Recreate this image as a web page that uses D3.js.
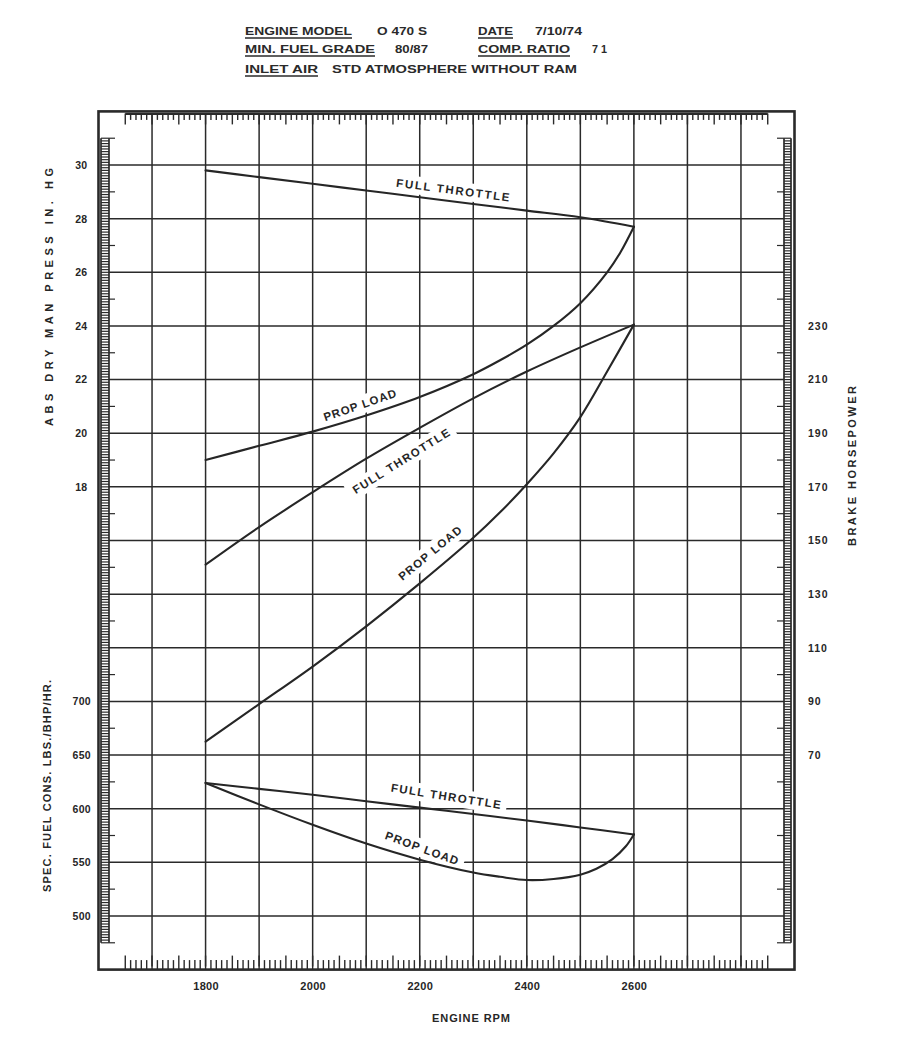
<!DOCTYPE html>
<html><head><meta charset="utf-8">
<script src="https://cdn.jsdelivr.net/npm/d3@7"></script>
<style>html,body{margin:0;padding:0;background:#fff;} svg{display:block;}</style>
</head><body>
<svg id="chart" width="897" height="1041"></svg>
<script>
// ---------------- DATA ----------------
const rpmTicks = [1800, 2000, 2200, 2400, 2600];
const mapTicks = [30, 28, 26, 24, 22, 20, 18];
const bhpTicks = [230, 210, 190, 170, 150, 130, 110, 90, 70];
const sfcTicks = [700, 650, 600, 550, 500];

// Manifold pressure (in. Hg)
const ftMapRpm = [1800, 1900, 2000, 2100, 2200, 2300, 2400, 2500, 2600];
const ftMap    = [29.8, 29.55, 29.3, 29.05, 28.8, 28.55, 28.3, 28.05, 27.7];
const plMapRpm = [1800, 1900, 2000, 2100, 2200, 2300, 2350, 2400, 2450, 2500, 2550, 2575, 2600];
const plMap    = [19.0, 19.53, 20.06, 20.66, 21.35, 22.2, 22.72, 23.3, 24.0, 24.85, 26.0, 26.75, 27.7];

// Brake horsepower
const ftBhpRpm = [1800, 1900, 2000, 2100, 2200, 2300, 2400, 2500, 2600];
const ftBhp    = [141, 155, 168, 180.5, 192, 203, 213, 222, 230.5];
const plBhpRpm = [1800, 1900, 2000, 2100, 2200, 2300, 2350, 2400, 2450, 2500, 2550, 2600];
const plBhp    = [75, 89, 103, 118, 134, 151, 160.5, 171, 182.5, 196, 213, 230.5];

// Specific fuel consumption (lbs/BHP/hr)
const ftSfcRpm = [1800, 1900, 2000, 2100, 2200, 2300, 2400, 2500, 2600];
const ftSfc    = [624, 618.5, 613, 607, 601, 595, 589, 582.5, 576];
const plSfcRpm = [1800, 1900, 2000, 2100, 2200, 2300, 2350, 2400, 2450, 2500, 2530, 2560, 2585, 2600];
const plSfc    = [624, 604, 585, 567.5, 552.5, 540.5, 536.5, 533.5, 534.5, 538.5, 544, 553, 565, 576];

// Curve labels (anchor in rpm / MAP-grid units)
const labelText  = ["FULL THROTTLE", "PROP LOAD", "FULL THROTTLE", "PROP LOAD", "FULL THROTTLE", "PROP LOAD"];
const labelRpm   = [2262, 2088, 2165, 2219, 2249, 2204];
const labelMap   = [29.07, 21.05, 18.96, 15.53, 6.47, 4.53];
const labelAngle = [7.5, -19, -32, -39.5, 9, 20];
const labelLen   = [114, 76, 112, 78, 111, 77];

// Header block
const headerRows = [
  [["ENGINE MODEL", true], ["O 470 S", false], ["DATE", true], ["7/10/74", false]],
  [["MIN. FUEL GRADE", true], ["80/87", false], ["COMP. RATIO", true], ["7 1", false]],
  [["INLET AIR", true], ["STD ATMOSPHERE WITHOUT RAM", false]]
];

// ---------------- LAYOUT ----------------
const W = 897, H = 1041;
const ink = "#2a2a2a";
const font = "'Liberation Sans', Arial, Helvetica, sans-serif";
const svg = d3.select("#chart");
svg.append("rect").attr("width", W).attr("height", H).attr("fill", "#fff");

const x = d3.scaleLinear().domain([1600, 2900]).range([98.5, 794.5]);
const yMap = d3.scaleLinear().domain([0, 32]).range([969.6, 111.4]);
const yBhp = d3.scaleLinear().domain([-10, 310]).range([969.6, 111.4]);
const ySfc = d3.scaleLinear().domain([450, 1250]).range([969.6, 111.4]);

const fr = { left: x(1600), right: x(2900), top: yMap(32), bottom: yMap(0) };

// header
const headerX = [[245, 377, 478, 535], [245, 395, 478, 592], [245, 332]];
const headerW = [[107, 50, 35, 47], [130, 33, 92, 15], [73, 245]];
const headerY = [35, 53, 73];
const hg = svg.append("g").attr("font-family", font).attr("font-weight", "bold")
  .attr("font-size", 11.5).attr("fill", "#2a2a2a");
headerRows.forEach((row, i) => {
  row.forEach((cell, j) => {
    hg.append("text").attr("x", headerX[i][j]).attr("y", headerY[i])
      .attr("textLength", headerW[i][j]).attr("lengthAdjust", "spacingAndGlyphs")
      .text(cell[0]);
    if (cell[1]) {
      hg.append("line").attr("x1", headerX[i][j]).attr("x2", headerX[i][j] + headerW[i][j])
        .attr("y1", headerY[i] + 3).attr("y2", headerY[i] + 3)
        .attr("stroke", "#2a2a2a").attr("stroke-width", 1.4);
    }
  });
});

// grid
const grid = svg.append("g").attr("stroke", ink).attr("stroke-width", 1.5);
grid.selectAll(".v").data(d3.range(1700, 2801, 100)).join("line")
  .attr("x1", d => x(d)).attr("x2", d => x(d))
  .attr("y1", fr.top + 3).attr("y2", fr.bottom - 3);
grid.selectAll(".h").data(d3.range(2, 31, 2)).join("line")
  .attr("x1", 109).attr("x2", 784)
  .attr("y1", d => yMap(d)).attr("y2", d => yMap(d));

// combs (top & bottom)
const comb = svg.append("g").attr("stroke", ink).attr("stroke-width", 1.4);
const combR = d3.range(1650, 2851, 10);
comb.append("line").attr("x1", x(1650)).attr("x2", x(2850))
  .attr("y1", fr.top + 2.5).attr("y2", fr.top + 2.5).attr("stroke-width", 2.2);
comb.selectAll(".tt").data(combR).join("line")
  .attr("x1", d => x(d)).attr("x2", d => x(d))
  .attr("y1", fr.top + 2).attr("y2", d => fr.top + (d % 50 === 0 ? 13 : 8.5));
comb.selectAll(".bt").data(combR).join("line")
  .attr("x1", d => x(d)).attr("x2", d => x(d))
  .attr("y1", fr.bottom).attr("y2", d => fr.bottom - (d % 50 === 0 ? 14 : 9.5));

// ladders (left & right)
const rungs = d3.range(10, 311).map(d => d / 10);
function ladder(xa, xb, longX) {
  const g = svg.append("g").attr("stroke", ink);
  [xa, xb].forEach(xx => g.append("line").attr("x1", xx).attr("x2", xx)
    .attr("y1", yMap(31)).attr("y2", yMap(1)).attr("stroke-width", 1.7));
  g.selectAll(".r").data(rungs).join("line")
    .attr("x1", xa).attr("x2", xb)
    .attr("y1", d => yMap(d)).attr("y2", d => yMap(d)).attr("stroke-width", 1.2);
  g.selectAll(".l").data(d3.range(1, 32, 2)).join("line")
    .attr("x1", xb === longX ? xa : xb).attr("x2", longX)
    .attr("y1", d => yMap(d)).attr("y2", d => yMap(d)).attr("stroke-width", 1.2);
}
ladder(101, 109, 115);
ladder(791, 784, 777);

// frame
svg.append("rect").attr("x", fr.left).attr("y", fr.top)
  .attr("width", fr.right - fr.left).attr("height", fr.bottom - fr.top)
  .attr("fill", "none").attr("stroke", ink).attr("stroke-width", 2.6);

// label backgrounds + curves + labels
const bgLayer = svg.append("g");
const curveLayer = svg.append("g").attr("fill", "none").attr("stroke", "#262626")
  .attr("stroke-width", 2.1).attr("stroke-linecap", "round");
const labelLayer = svg.append("g").attr("font-family", font).attr("font-weight", "bold")
  .attr("font-size", 11.5).attr("fill", "#262626");

function curve(xs, ys, yScale) {
  const pts = xs.map((r, i) => [r, ys[i]]);
  const line = d3.line().x(d => x(d[0])).y(d => yScale(d[1])).curve(d3.curveCatmullRom.alpha(0.5));
  curveLayer.append("path").attr("d", line(pts));
}
curve(ftMapRpm, ftMap, yMap);
curve(plMapRpm, plMap, yMap);
curve(ftBhpRpm, ftBhp, yBhp);
curve(plBhpRpm, plBhp, yBhp);
curve(ftSfcRpm, ftSfc, ySfc);
curve(plSfcRpm, plSfc, ySfc);

labelText.forEach((t, i) => {
  const tr = `translate(${x(labelRpm[i])},${yMap(labelMap[i])}) rotate(${labelAngle[i]})`;
  const txt = labelLayer.append("text").attr("transform", tr)
    .attr("text-anchor", "middle").attr("dy", "0.36em")
    .attr("textLength", labelLen[i]).attr("lengthAdjust", "spacing").text(t);
  const bb = txt.node().getBBox();
  bgLayer.append("rect").attr("transform", tr)
    .attr("x", -labelLen[i] / 2 - 6).attr("y", bb.y - 3)
    .attr("width", labelLen[i] + 12).attr("height", bb.height + 6)
    .attr("fill", "#fff");
});

// axes labels
function styleAxis(g, size, ls) {
  g.select(".domain").remove();
  g.selectAll(".tick line").remove();
  g.attr("font-family", font).attr("font-size", size).attr("font-weight", "bold");
  g.selectAll("text").attr("fill", "#262626").attr("letter-spacing", ls);
}
svg.append("g").attr("transform", `translate(0,${fr.bottom})`)
  .call(d3.axisBottom(x).tickValues(rpmTicks).tickFormat(d3.format("d")).tickSize(0).tickPadding(13))
  .call(g => styleAxis(g, 11, 0.3));
svg.append("g").attr("transform", "translate(87.5,0)")
  .call(d3.axisLeft(yMap).tickValues(mapTicks).tickFormat(d3.format("d")).tickSize(0).tickPadding(0))
  .call(g => styleAxis(g, 10.5, 0.3));
svg.append("g").attr("transform", "translate(91,0)")
  .call(d3.axisLeft(ySfc).tickValues(sfcTicks).tickFormat(d3.format("d")).tickSize(0).tickPadding(0))
  .call(g => styleAxis(g, 10.5, 0.3));
svg.append("g").attr("transform", "translate(808,0)")
  .call(d3.axisRight(yBhp).tickValues(bhpTicks).tickFormat(d3.format("d")).tickSize(0).tickPadding(0))
  .call(g => styleAxis(g, 10.5, 1));

// axis titles
const tg = svg.append("g").attr("font-family", font).attr("font-weight", "bold")
  .attr("font-size", 11).attr("fill", "#262626").attr("text-anchor", "middle");
tg.append("text").attr("transform", "translate(49,297) rotate(-90)").attr("dy", "0.36em")
  .attr("textLength", 258).attr("lengthAdjust", "spacing").text("ABS  DRY  MAN  PRESS  IN.  HG");
tg.append("text").attr("transform", "translate(47,786) rotate(-90)").attr("dy", "0.36em")
  .attr("textLength", 212).attr("lengthAdjust", "spacing").text("SPEC.  FUEL  CONS.  LBS./BHP/HR.");
tg.append("text").attr("transform", "translate(852,466) rotate(-90)").attr("dy", "0.36em")
  .attr("textLength", 160).attr("lengthAdjust", "spacing").text("BRAKE  HORSEPOWER");
tg.append("text").attr("x", 471).attr("y", 1022)
  .attr("textLength", 78).attr("lengthAdjust", "spacing").text("ENGINE  RPM");
</script>
</body></html>
